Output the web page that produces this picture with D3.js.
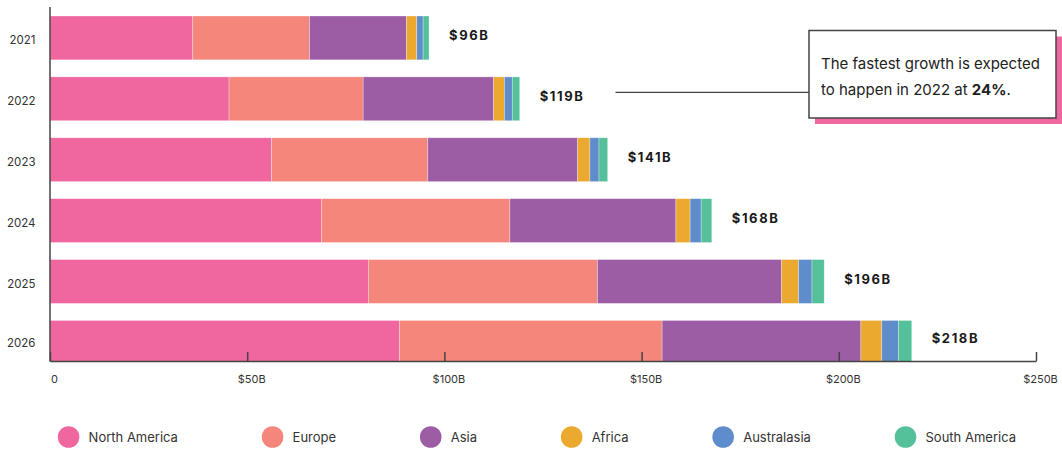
<!DOCTYPE html>
<html>
<head>
<meta charset="utf-8">
<script src="https://cdn.jsdelivr.net/npm/d3@7"></script>
<style>
  body { margin: 0; background: #fff; }
  svg { display: block; font-family: Inter, "Noto Sans", sans-serif; }
</style>
</head>
<body>
<svg id="chart" width="1062" height="449"></svg>
<script>
// years on the y axis (top to bottom)
const years = ["2021", "2022", "2023", "2024", "2025", "2026"];
// regions, in stacking order
const regions = ["North America", "Europe", "Asia", "Africa", "Australasia", "South America"];
const regionColors = ["#ef679e", "#f4867c", "#9c5da5", "#eca92f", "#5f8cca", "#55c19a"];
// market size per region, $B
const northAmerica = [36.2, 45.4, 56.2, 68.8, 80.7, 88.6];
const europe       = [29.6, 34.0, 39.6, 47.8, 58.1, 66.6];
const asia         = [24.6, 33.1, 38.0, 42.1, 46.7, 50.4];
const africa       = [2.6, 2.7, 3.1, 3.6, 4.3, 5.3];
const australasia  = [1.6, 2.0, 2.3, 2.8, 3.4, 4.2];
const southAmerica = [1.5, 1.9, 2.2, 2.7, 3.1, 3.4];
const totalLabels  = ["$96B", "$119B", "$141B", "$168B", "$196B", "$218B"];
const xTicks = [0, 50, 100, 150, 200, 250];

const series = [northAmerica, europe, asia, africa, australasia, southAmerica];

// build rows for d3.stack
const rows = years.map((yr, i) => {
    let row = { year: yr, label: totalLabels[i] };
    regions.forEach((r, j) => { row[r] = series[j][i]; });
    return row;
});

const svg = d3.select("#chart");
const axisY = 361;

const x = d3.scaleLinear().domain([0, 250]).range([50, 1036]);
const y = d3.scaleBand().domain(years).range([16, 364.3]).paddingInner(0.28);
const color = d3.scaleOrdinal().domain(regions).range(regionColors);

const stacked = d3.stack().keys(regions)(rows);

// clip so the last bar stops at the axis
svg.append("clipPath").attr("id", "plotClip")
   .append("rect").attr("x", 0).attr("y", 0).attr("width", 1062).attr("height", axisY);

const barGroup = svg.append("g").attr("clip-path", "url(#plotClip)");
barGroup.selectAll("g.layer")
    .data(stacked)
    .join("g")
    .attr("class", "layer")
    .attr("fill", d => color(d.key))
    .selectAll("rect")
    .data(d => d)
    .join("rect")
    .attr("x", d => x(d[0]))
    .attr("y", d => y(d.data.year))
    .attr("width", d => x(d[1]) - x(d[0]))
    .attr("height", y.bandwidth())
    .attr("stroke", "#fff")
    .attr("stroke-opacity", 0.5)
    .attr("stroke-width", 0.6);

// centre of the visible part of a bar
const barMid = d => (y(d) + Math.min(y(d) + y.bandwidth(), axisY)) / 2;

// total labels
const totals = rows.map(r => d3.sum(regions, k => r[k]));
const valueLabels = svg.append("g").selectAll("text")
    .data(rows)
    .join("text")
    .attr("x", (d, i) => x(totals[i]) + 20)
    .attr("y", d => barMid(d.year) - 2)
    .attr("dy", "0.35em")
    .attr("font-size", 13)
    .attr("font-weight", 700)
    .attr("letter-spacing", "1.6px")
    .attr("fill", "#1a1a1a")
    .text(d => d.label);

// year labels
svg.append("g").selectAll("text")
    .data(years)
    .join("text")
    .attr("x", 35.5)
    .attr("y", d => barMid(d) + 2)
    .attr("dy", "0.35em")
    .attr("text-anchor", "end")
    .attr("font-size", 11.5)
    .attr("fill", "#333")
    .text(d => d);

// x axis
const xAxis = d3.axisBottom(x)
    .tickValues(xTicks)
    .tickSize(-9)
    .tickSizeOuter(0)
    .tickPadding(14)
    .tickFormat(d => d === 0 ? "0" : "$" + d + "B");

const gx = svg.append("g")
    .attr("transform", "translate(0," + axisY + ")")
    .call(xAxis);
gx.select(".domain").attr("stroke", "#444").attr("stroke-width", 1.5);
gx.selectAll(".tick line").attr("stroke", "#444").attr("stroke-width", 1.5);
gx.selectAll(".tick text")
    .attr("dx", 4)
    .attr("font-family", "Inter, 'Noto Sans', sans-serif")
    .attr("font-size", 11)
    .attr("fill", "#333");

// y axis line
svg.append("line")
    .attr("x1", x(0)).attr("x2", x(0))
    .attr("y1", 7).attr("y2", axisY + 0.75)
    .attr("stroke", "#444")
    .attr("stroke-width", 1.5);

// annotation box
const box = { x: 809, y: 30.5, w: 247, h: 87.5 };
const labelNode = valueLabels.filter(d => d.year === "2022").node();
const lb = labelNode.getBBox();
svg.append("line")
    .attr("x1", lb.x + lb.width + 31)
    .attr("x2", box.x)
    .attr("y1", 92.3).attr("y2", 92.3)
    .attr("stroke", "#444")
    .attr("stroke-width", 1.2);

svg.append("rect")
    .attr("x", box.x + 6).attr("y", box.y + 6)
    .attr("width", box.w).attr("height", box.h)
    .attr("fill", regionColors[0]);
svg.append("rect")
    .attr("x", box.x).attr("y", box.y)
    .attr("width", box.w).attr("height", box.h)
    .attr("fill", "#fff")
    .attr("stroke", "#444")
    .attr("stroke-width", 1.5);

const note = svg.append("text")
    .attr("font-size", 15)
    .attr("fill", "#222");
note.append("tspan").attr("x", box.x + 12).attr("y", box.y + 38)
    .text("The fastest growth is expected");
const l2 = note.append("tspan").attr("x", box.x + 12).attr("y", box.y + 64.5);
l2.append("tspan").text("to happen in 2022 at ");
l2.append("tspan").attr("font-weight", 700).text("24%");
l2.append("tspan").text(".");

// legend: items spread with equal gaps between them (space-between)
const legend = svg.append("g").attr("transform", "translate(0,437)");
const legendLeft = 57.8, legendRight = 1016, dotR = 10.8, textOffset = 20;
const items = regions.map(r => {
    const g = legend.append("g");
    g.append("circle").attr("cx", dotR).attr("r", dotR).attr("fill", color(r));
    const t = g.append("text")
        .attr("x", dotR + textOffset)
        .attr("dy", "0.35em")
        .attr("font-size", 13)
        .attr("fill", "#333")
        .text(r);
    return { g: g, w: dotR + textOffset + t.node().getComputedTextLength() };
});
const gap = (legendRight - legendLeft - d3.sum(items, d => d.w)) / (items.length - 1);
let cursor = legendLeft;
items.forEach(it => {
    it.g.attr("transform", "translate(" + cursor + ",0)");
    cursor += it.w + gap;
});
</script>
</body>
</html>
